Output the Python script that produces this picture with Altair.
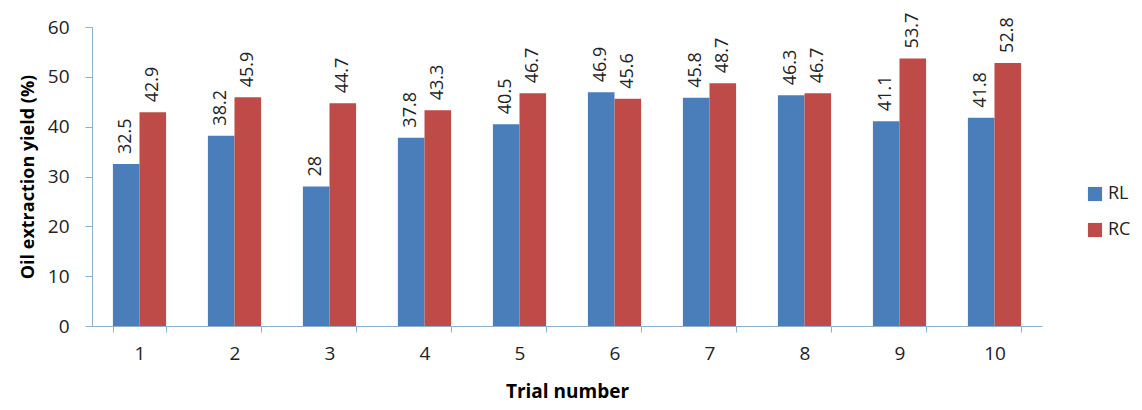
import altair as alt
import pandas as pd

trials = ["1", "2", "3", "4", "5", "6", "7", "8", "9", "10"]
rl = [32.5, 38.2, 28, 37.8, 40.5, 46.9, 45.8, 46.3, 41.1, 41.8]
rc = [42.9, 45.9, 44.7, 43.3, 46.7, 45.6, 48.7, 46.7, 53.7, 52.8]
series = ["RL", "RC"]
colors = ["#4A7EBB", "#BE4B48"]

rows = []
for i, t in enumerate(trials):
    rows.append({"trial": t, "series": "RL", "value": rl[i], "label": f"{rl[i]:g}"})
    rows.append({"trial": t, "series": "RC", "value": rc[i], "label": f"{rc[i]:g}"})
df = pd.DataFrame(rows)

font = "Open Sans"
axis_color = "#8FAFCB"

x = alt.X("trial:N", sort=trials, title="Trial number",
          scale=alt.Scale(paddingInner=0.44, paddingOuter=0.22),
          axis=alt.Axis(labelAngle=0, tickBand="extent", labelFontSize=19,
                        labelColor="#222", titleFontSize=19, titleFontWeight="bold",
                        titlePadding=19, labelPadding=12, domainColor=axis_color,
                        tickColor=axis_color, tickSize=6, labelFont=font, titleFont=font))
y = alt.Y("value:Q", title="Oil extraction yield (%)",
          scale=alt.Scale(domain=[0, 60], nice=False),
          axis=alt.Axis(values=[0, 10, 20, 30, 40, 50, 60], grid=False, labelFontSize=19,
                        labelColor="#222", titleFontSize=18, titleFontWeight="bold",
                        titlePadding=10, labelPadding=16, domainColor=axis_color,
                        tickColor=axis_color, tickSize=7, labelFont=font, titleFont=font))
xo = alt.XOffset("series:N", sort=series)

bars = alt.Chart(df).mark_bar().encode(
    x=x, y=y, xOffset=xo,
    color=alt.Color("series:N", sort=series,
                    scale=alt.Scale(domain=series, range=colors),
                    legend=alt.Legend(title=None, orient="none", legendX=994, legendY=158,
                                      labelFontSize=18, labelFont=font, labelColor="#222",
                                      labelOffset=4, symbolType="square", symbolSize=200,
                                      symbolStrokeWidth=0, rowPadding=18)),
)

labels = alt.Chart(df).mark_text(angle=270, align="left", baseline="middle", dx=10,
                                 fontSize=18, font=font, color="#222").encode(
    x=x, y=y, xOffset=xo, text="label:N"
)

chart = (bars + labels).properties(
    width=950, height=299,
    autosize=alt.AutoSizeParams(type="none"),
    padding={"left": 84, "top": 19, "right": 92, "bottom": 76},
).configure(background="white").configure_view(stroke=None)

chart.save("out.html", embed_options={"renderer": "svg", "actions": False})
